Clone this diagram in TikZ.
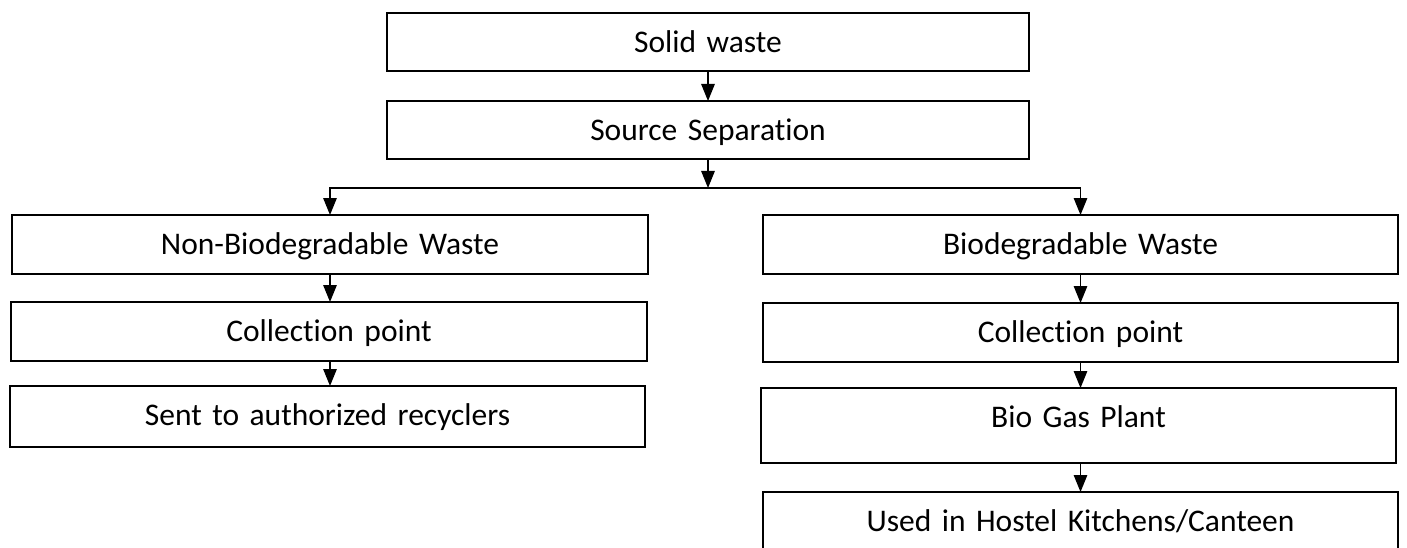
\documentclass[tikz,border=0pt]{standalone}
\usepackage{fontspec}
\setmainfont{Carlito}[Ligatures={NoCommon,NoDiscretionary,NoRare}]
\usetikzlibrary{arrows.meta}
\tikzset{
  bx/.style 2 args={draw, line width=1.3pt, inner sep=0pt, outer sep=0pt,
    anchor=north west, align=center, text height=39.5pt,
    text width=#1, text depth=#2,
    font=\fontsize{31.5}{38}\selectfont},
  arr/.style={line width=1.3pt, -{Triangle[length=17pt,width=13.5pt]}}
}
\begin{document}
\begin{tikzpicture}[x=1pt,y=-1pt]
\useasboundingbox (0,0) rectangle (1407,548);
\node[bx={642pt}{18.5pt}] (solid)  at (387,13)  {Solid waste};
\node[bx={642pt}{18.5pt}] (source) at (387,101) {Source Separation};
\node[bx={636pt}{19.5pt}] (nonbio) at (12,215)  {Non-Biodegradable Waste};
\node[bx={636pt}{19.5pt}] (colL)   at (11,302)  {Collection point};
\node[bx={635pt}{21.5pt}] (sent)   at (10,386)  {Sent to authorized recyclers};
\node[bx={635pt}{19.5pt}] (bio)    at (763,215) {Biodegradable Waste};
\node[bx={635pt}{19.5pt}] (colR)   at (763,303) {Collection point};
\node[bx={635pt}{35.5pt}] (biogas) at (761,388) {Bio Gas Plant};
\node[bx={635pt}{68.5pt}] (used)   at (763,492) {Used in Hostel Kitchens/Canteen};
\coordinate (j) at (708,188);
\draw[arr] (solid.south) -- (solid.south |- source.north);
\draw[arr] (source.south) -- (j);
\draw[arr] (j) -| (nonbio.north);
\draw[arr] (j) -| (bio.north);
\draw[arr] (nonbio.south) -- (nonbio.south |- colL.north);
\draw[arr] (nonbio.south |- colL.south) -- (nonbio.south |- sent.north);
\draw[arr] (bio.south) -- (bio.south |- colR.north);
\draw[arr] (colR.south) -- (colR.south |- biogas.north);
\draw[arr] (colR.south |- biogas.south) -- (colR.south |- used.north);
\end{tikzpicture}
\end{document}
